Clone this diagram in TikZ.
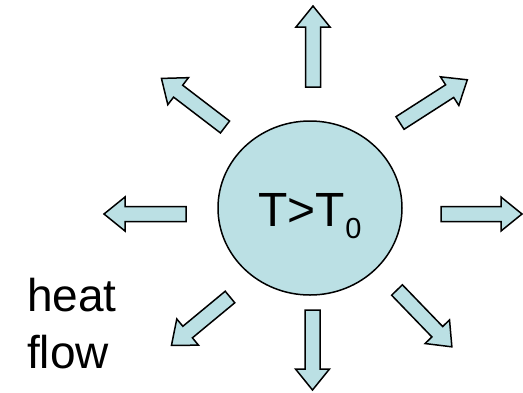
\documentclass[tikz,border=0pt]{standalone}
\usepackage{fontspec}
\setmainfont{Liberation Sans}
\usepackage{tikz}
\usetikzlibrary{shapes,positioning,calc}

\definecolor{heatblue}{RGB}{187,224,228}

\tikzset{
    arrowbox/.style={draw=black, line width=1.5pt, fill=heatblue, line join=miter},
    pics/heatarrow/.style={code={
        \draw[arrowbox] (0,-7.5) -- ({#1-21},-7.5) -- ({#1-21},-17) -- (#1,0)
            -- ({#1-21},17) -- ({#1-21},7.5) -- (0,7.5) -- cycle;
    }}
}

\begin{document}
\begin{tikzpicture}[x=1pt, y=-1pt]
        \useasboundingbox (0,0) rectangle (523,392);

        % Hot body
        \node[ellipse, draw, line width=1.5pt, fill=heatblue, minimum width=184pt, minimum height=174pt,
              inner sep=0pt, text height=36pt, text depth=0pt,
              font=\fontsize{48}{48}\selectfont] (body) at (310,208)
              {T>T{\fontsize{29}{29}\selectfont\raisebox{-12pt}{0}}};

        % Heat flow arrows
        \pic[rotate=90]    at (313,87)  {heatarrow=81};
        \pic[rotate=-90]   at (312.5,310) {heatarrow=80};
        \pic[rotate=180]   at (186,214) {heatarrow=82};
        \pic[rotate=0]     at (441,214) {heatarrow=81};
        \pic[rotate=142.6] at (225,127) {heatarrow=80};
        \pic[rotate=32.7]  at (400,123) {heatarrow=80};
        \pic[rotate=219.6] at (230,297) {heatarrow=76};
        \pic[rotate=-46]   at (397,290) {heatarrow=79};

        % Label
        \node[anchor=north west, inner sep=0pt, align=left,
              font=\fontsize{46}{57}\selectfont] (label) at (27,278) {heat\\flow};
\end{tikzpicture}
\end{document}
